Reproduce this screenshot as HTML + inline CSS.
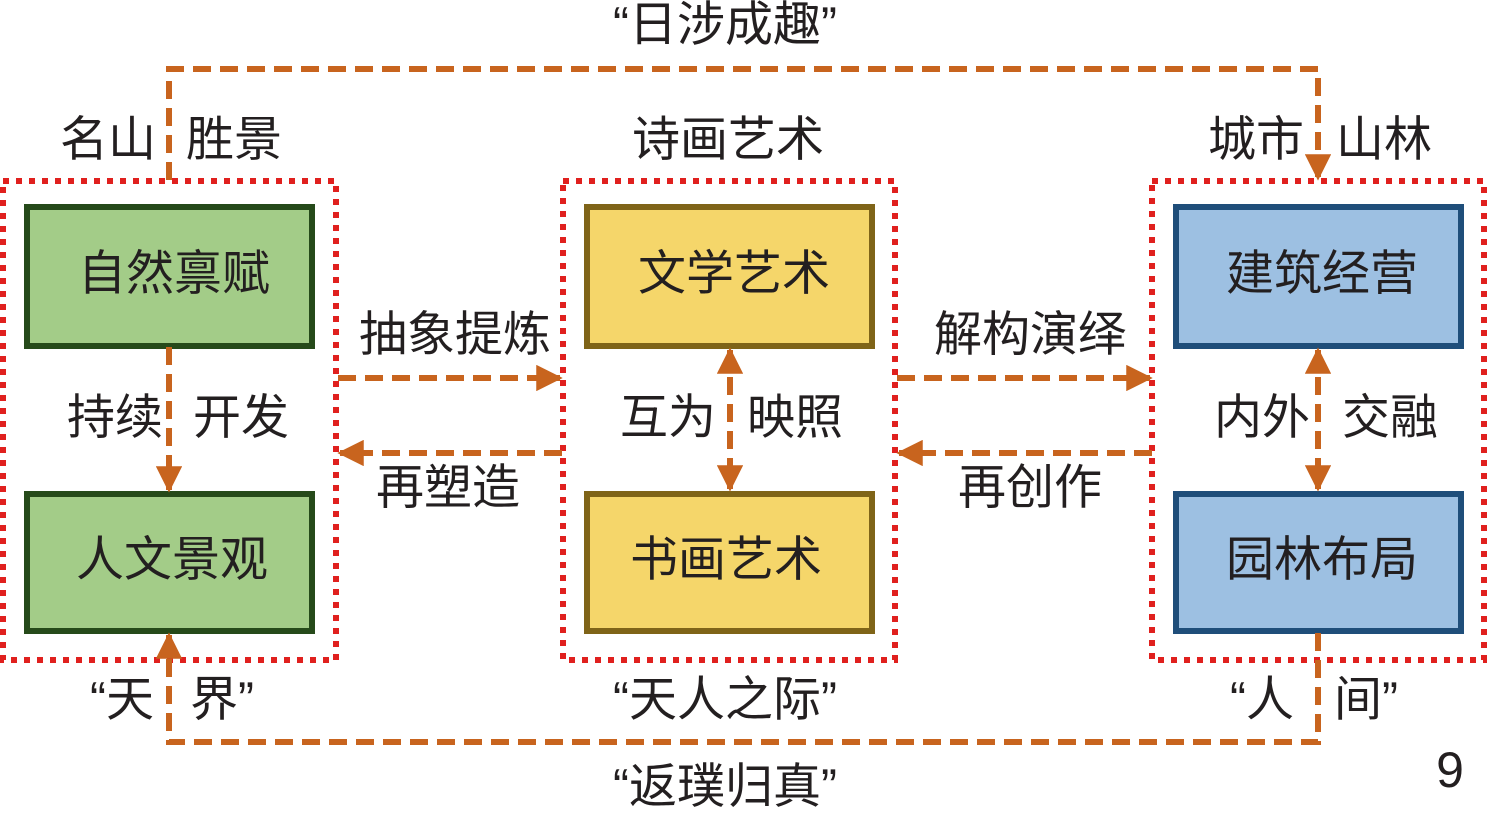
<!DOCTYPE html>
<html><head><meta charset="utf-8"><style>
html,body{margin:0;padding:0;background:#fff;}
svg{display:block}
text{font-family:"Liberation Sans","Noto Sans CJK SC",sans-serif;fill:#231f20;font-size:48px;dominant-baseline:central;text-anchor:middle}
</style></head><body>
<svg width="1488" height="816" viewBox="0 0 1488 816" xmlns="http://www.w3.org/2000/svg">
<defs>
<marker id="a" viewBox="0 0 10 10" refX="9" refY="5" markerWidth="4.4" markerHeight="4.4" orient="auto-start-reverse" markerUnits="strokeWidth"><path d="M0,0 L10,5 L0,10 z" fill="#c8641e"/></marker>
</defs>
<g fill="none" stroke="#e0201e" stroke-width="6" stroke-dasharray="6 7">
<rect x="3" y="181" width="333" height="479"/>
<rect x="563" y="181" width="332" height="479"/>
<rect x="1152" y="181" width="332" height="479"/>
</g>
<g stroke-width="6">
<rect x="27" y="207" width="285" height="139" fill="#a3cc88" stroke="#264a1a"/>
<rect x="27" y="494" width="285" height="137" fill="#a3cc88" stroke="#264a1a"/>
<rect x="587" y="207" width="285" height="139" fill="#f5d66a" stroke="#7f6418"/>
<rect x="587" y="494" width="285" height="137" fill="#f5d66a" stroke="#7f6418"/>
<rect x="1176" y="207" width="285" height="139" fill="#9dc0e2" stroke="#1f4e7a"/>
<rect x="1176" y="494" width="285" height="137" fill="#9dc0e2" stroke="#1f4e7a"/>
</g>
<g fill="none" stroke="#c8641e" stroke-width="6" stroke-dasharray="18 9">
<path d="M169,180 V69 H1318 V178" marker-end="url(#a)"/>
<path d="M1318,633 V742 H169 V635" marker-end="url(#a)"/>
<path d="M169,347 V490" marker-end="url(#a)"/>
<path d="M730,350 V489" marker-end="url(#a)" marker-start="url(#a)"/>
<path d="M1318,350 V489" marker-end="url(#a)" marker-start="url(#a)"/>
<path d="M338,378 H560" marker-end="url(#a)"/>
<path d="M562,453 H340" marker-end="url(#a)"/>
<path d="M897,378 H1150" marker-end="url(#a)"/>
<path d="M1152,453 H899" marker-end="url(#a)"/>
</g>
<text x="174" y="274">自然禀赋</text>
<text x="172" y="560">人文景观</text>
<text x="734" y="274">文学艺术</text>
<text x="726" y="560">书画艺术</text>
<text x="1322" y="274">建筑经营</text>
<text x="1322" y="560">园林布局</text>
<text x="108" y="140">名山</text>
<text x="234" y="140">胜景</text>
<text x="115" y="418">持续</text>
<text x="241" y="418">开发</text>
<text x="728" y="140">诗画艺术</text>
<text x="668" y="418">互为</text>
<text x="795" y="418">映照</text>
<text x="1256" y="140">城市</text>
<text x="1384" y="140">山林</text>
<text x="1262" y="418">内外</text>
<text x="1390" y="418">交融</text>
<text x="455" y="335">抽象提炼</text>
<text x="448" y="488">再塑造</text>
<text x="1030" y="335">解构演绎</text>
<text x="1030" y="488">再创作</text>
<text x="725" y="25">“日涉成趣”</text>
<text x="725" y="787">“返璞归真”</text>
<text x="725" y="700">“天人之际”</text>
<text x="122" y="700">“天</text>
<text x="222" y="700">界”</text>
<text x="1262" y="700">“人</text>
<text x="1366" y="700">间”</text>
<text x="1450" y="770" style="font-size:50px">9</text>
</svg>
</body></html>
